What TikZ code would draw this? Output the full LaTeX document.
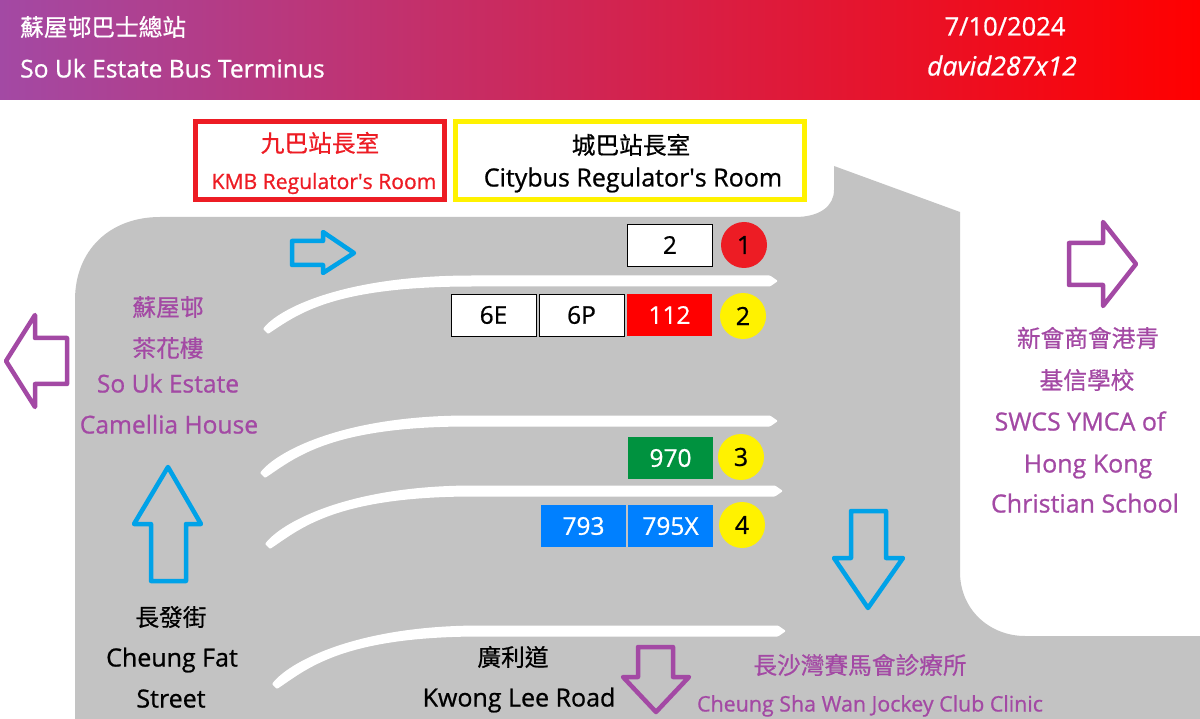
\documentclass[tikz,border=0pt]{standalone}
\usepackage{fontspec}
\setmainfont[FakeBold=0.8]{Open Sans}
\newfontfamily\cjk[FakeBold=0.6]{Noto Sans CJK TC}
\definecolor{roadgray}{HTML}{C3C3C3}
\definecolor{signpurple}{HTML}{A349A4}
\definecolor{signblue}{HTML}{00A2E8}
\definecolor{kmbred}{HTML}{ED1C24}
\definecolor{ctbyellow}{HTML}{FFF200}
\definecolor{routegreen}{HTML}{00923F}
\definecolor{routeblue}{HTML}{0080FF}
\newcommand{\fsize}[1]{\fontsize{#1}{#1}\selectfont}
\newcommand{\lane}[4]{\fill[white, rounded corners=1pt] (#1,#2) .. controls +(15,-20) and +(-130,0) .. (#1+210,#4-5.5) -- (#3-8,#4-5.5) -- (#3,#4) -- (#3-8,#4+5.5) -- (#1+210,#4+5.5) .. controls +(-140,0) and +(30,-20) .. (#1+5,#2+5) -- cycle;}
\tikzset{
    tx/.style={inner sep=0pt, text height=22pt, text depth=4pt, align=center},
    zh/.style={tx, font=\cjk\fsize{#1}},
    en/.style={tx, text height=21pt, font=\fsize{#1}},
    route/.style={rectangle, minimum width=85pt, minimum height=42pt, inner sep=0pt, font=\fsize{24.5}},
    stand/.style={circle, minimum size=46pt, inner sep=0pt, fill=ctbyellow, font=\fsize{25}},
    room/.style={rectangle, line width=5pt},
    signarrow/.style={line width=4.5pt, line join=round},
}
\begin{document}
\begin{tikzpicture}[x=1pt, y=-1pt]
    \useasboundingbox (0,0) rectangle (1200,719);
    \shade[left color=signpurple, right color=red] (0,0) rectangle (1200,100);
    \node[zh=23.7, white, anchor=west] (titlezh) at (20,27) {蘇屋邨巴士總站};
    \node[en=24.6, white, anchor=west] (titleen) at (20,69) {So Uk Estate Bus Terminus};
    \node[en=25.5, white] (date) at (1005,27) {7/10/2024};
    \node[en=23, white, font=\itshape\fsize{26.4}] (author) at (1002,67) {david287x12};

    \fill[roadgray] (75,719) -- (75,300) .. controls (75,250) and (110,217) .. (160,217) -- (795,217) .. controls (820,217) and (834,206) .. (834,190) -- (834,166) -- (960,212) -- (960,572) .. controls (960,610) and (990,636) .. (1025,636) -- (1200,636) -- (1200,719) -- cycle;

    \lane{263}{329}{778}{281}
    \lane{260}{473}{778}{421}
    \lane{265}{544}{783}{491}
    \lane{272}{684}{786}{631}

    \draw[room, draw=kmbred] (195.5,121.5) rectangle (444.5,199.5);
    \draw[room, draw=ctbyellow] (455.5,121.5) rectangle (804.5,199.5);
    \node[zh=23.7, kmbred] (kmbzh) at (320,143) {九巴站長室};
    \node[en=21.1, kmbred] (kmben) at (324,180.5) {KMB Regulator\textquotesingle s Room};
    \node[zh=23.7] (ctbzh) at (631,145) {城巴站長室};
    \node[en=25, black] (ctben) at (633,178) {Citybus Regulator\textquotesingle s Room};

    \node[route, draw=black, fill=white] (r2) at (670,245) {2};
    \node[route, draw=black, fill=white] (r6e) at (493.5,315) {6E};
    \node[route, draw=black, fill=white] (r6p) at (581.5,315) {6P};
    \node[route, fill=red, text=white] (r112) at (669.5,315) {112};
    \node[route, fill=routegreen, text=white] (r970) at (670.5,458) {970};
    \node[route, fill=routeblue, text=white] (r793) at (583.5,526) {793};
    \node[route, fill=routeblue, text=white] (r795x) at (670.5,526) {795X};
    \node[stand, fill=kmbred] (s1) at (744,245) {1};
    \node[stand] (s2) at (743,316) {2};
    \node[stand] (s3) at (741,457) {3};
    \node[stand] (s4) at (742,525) {4};

    \draw[signarrow, signblue] (292,241) -- (323,241) -- (323,232) -- (354,253) -- (323,273) -- (323,265) -- (292,265) -- cycle;
    \draw[signarrow, signblue] (168,467) -- (201,524) -- (186,524) -- (186,581) -- (151,581) -- (151,524) -- (134,524) -- cycle;
    \draw[signarrow, signblue] (851,511) -- (886,511) -- (886,558) -- (903,558) -- (868,608) -- (834,558) -- (851,558) -- cycle;
    \draw[signarrow, signpurple] (6,361) -- (35,315) -- (35,338) -- (67,338) -- (67,384) -- (35,384) -- (35,407) -- cycle;
    \draw[signarrow, signpurple] (1069,243) -- (1103,243) -- (1103,222) -- (1136,264) -- (1103,306) -- (1103,285) -- (1069,285) -- cycle;
    \draw[signarrow, signpurple] (638,647) -- (673,647) -- (673,677) -- (689,677) -- (656,712) -- (623,677) -- (638,677) -- cycle;

    \node[zh=23.7, signpurple] (estatezh) at (168,307) {蘇屋邨};
    \node[zh=23.7, signpurple] (housezh) at (168,348) {茶花樓};
    \node[en=24.6, signpurple] (estateen) at (168,384) {So Uk Estate};
    \node[en=24.6, signpurple] (houseen) at (169,425) {Camellia House};

    \node[zh=23.7, signpurple] (schoolzha) at (1088,338) {新會商會港青};
    \node[zh=23.7, signpurple] (schoolzhb) at (1087,380) {基信學校};
    \node[en=25, signpurple] (schoolena) at (1080,422) {SWCS YMCA of};
    \node[en=25, signpurple] (schoolenb) at (1088,464) {Hong Kong};
    \node[en=25, signpurple] (schoolenc) at (1085,504) {Christian School};

    \node[zh=23.7] (fatzh) at (171,617) {長發街};
    \node[en=25] (fatena) at (172,658) {Cheung Fat};
    \node[en=25] (fatenb) at (171,699) {Street};
    \node[zh=23.7] (kwongzh) at (513,657) {廣利道};
    \node[en=25] (kwongen) at (519,698) {Kwong Lee Road};
    \node[zh=23.7, signpurple] (cliniczh) at (860,665) {長沙灣賽馬會診療所};
    \node[en=21.4, signpurple] (clinicen) at (870,703) {Cheung Sha Wan Jockey Club Clinic};
\end{tikzpicture}
\end{document}
